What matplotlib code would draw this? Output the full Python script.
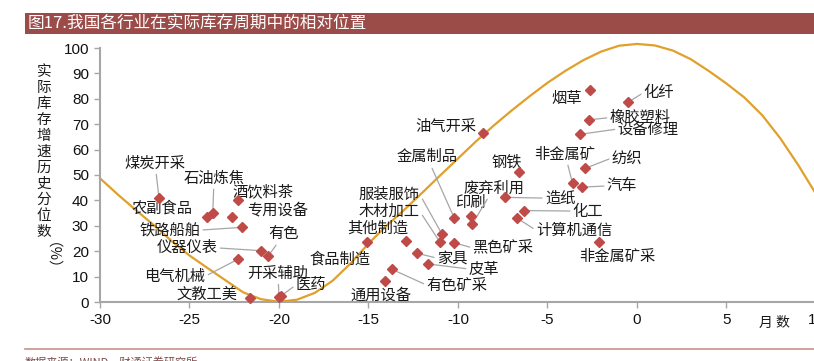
import matplotlib
matplotlib.use("Agg")
import matplotlib.pyplot as plt
from matplotlib.patches import Rectangle
from matplotlib.lines import Line2D

plt.rcParams["font.family"] = ["Noto Sans CJK SC", "DejaVu Sans"]
plt.rcParams["axes.unicode_minus"] = False

# ── data ─────────────────────────────────────────────────────────────────────
CURVE_X = list(range(-30, 11))
CURVE_Y = [48.7, 42.3, 36.2, 30.3, 24.0, 18.3, 13.4, 8.6, 3.8, 1.1, 0.1,
           0.9, 3.6, 8.4, 15.2, 23.0, 30.0, 36.3, 43.0, 49.8, 56.5,
           63.2, 69.5, 75.4, 81.0, 86.3, 91.0, 95.2, 98.6, 100.9, 101.6,
           101.0, 99.0, 95.6, 91.0, 86.0, 80.5, 73.5, 64.5, 54.0, 42.5]

INDUSTRIES = ["煤炭开采", "农副食品", "石油炼焦", "酒饮料茶", "专用设备", "铁路船舶",
              "仪器仪表", "有色", "电气机械", "文教工美", "开采辅助", "医药",
              "食品制造", "其他制造", "通用设备", "有色矿采", "服装服饰", "木材加工",
              "金属制品", "家具", "皮革", "黑色矿采", "印刷", "废弃利用",
              "油气开采", "钢铁", "造纸", "化工", "计算机通信", "非金属矿",
              "汽车", "纺织", "设备修理", "橡胶塑料", "烟草", "化纤", "非金属矿采"]
MONTHS = [-26.7, -24.0, -23.7, -22.3, -22.6, -22.05,
          -21.0, -20.6, -22.3, -21.6, -20.0, -19.9,
          -15.1, -12.9, -14.1, -13.7, -10.9, -11.0,
          -10.2, -12.3, -11.7, -10.2, -9.3, -9.2,
          -8.6, -6.6, -7.4, -6.3, -6.7, -3.6,
          -3.1, -2.9, -3.2, -2.7, -2.6, -0.5, -2.1]
PCTILE = [40.8, 33.5, 34.9, 40.2, 33.3, 29.4,
          20.2, 18.1, 16.8, 1.5, 2.0, 2.3,
          23.7, 24.1, 8.3, 12.9, 26.8, 23.5,
          32.9, 19.2, 15.0, 23.3, 34.0, 30.7,
          66.7, 51.3, 41.2, 36.0, 33.0, 46.7,
          45.2, 52.6, 66.0, 71.7, 83.5, 78.6, 23.7]

# ── label layout: (x, y) of text centre, leader relpos or None ──────────────
LABEL_POS = {
    "煤炭开采": ((-26.93, 54.7), (0.5, 0.5)),
    "农副食品": ((-26.54, 37.0), None),
    "石油炼焦": ((-23.63, 48.8), (0.5, 0.5)),
    "酒饮料茶": ((-20.87, 43.3), None),
    "专用设备": ((-20.06, 36.2), None),
    "铁路船舶": ((-26.1, 28.3), (1, 0.5)),
    "仪器仪表": ((-25.14, 21.3), (1, 0.5)),
    "有色": ((-19.72, 26.8), (0.5, 0.5)),
    "电气机械": ((-25.81, 10.2), (1, 0.5)),
    "文教工美": ((-24.02, 3.1), None),
    "开采辅助": ((-20.06, 11.4), (0.5, 0.5)),
    "医药": ((-18.21, 6.7), (0, 0.5)),
    "食品制造": ((-16.59, 16.9), None),
    "其他制造": ((-14.47, 29.1), None),
    "通用设备": ((-14.3, 2.8), None),
    "有色矿采": ((-10.06, 6.7), (0, 0.5)),
    "服装服饰": ((-13.85, 42.5), (1, 0.5)),
    "木材加工": ((-13.85, 35.8), (1, 0.5)),
    "金属制品": ((-11.73, 57.1), (0.5, 0.5)),
    "家具": ((-10.33, 17.3), (0, 0.5)),
    "皮革": ((-8.55, 13.0), (0, 0.5)),
    "黑色矿采": ((-7.49, 21.3), (0, 0.5)),
    "印刷": ((-9.33, 39.0), None),
    "废弃利用": ((-7.99, 44.9), (0.5, 0.5)),
    "油气开采": ((-10.67, 69.3), None),
    "钢铁": ((-7.26, 55.1), None),
    "造纸": ((-4.3, 40.9), (0, 0.5)),
    "化工": ((-2.74, 35.8), (0, 0.5)),
    "计算机通信": ((-3.52, 28.3), (0, 0.5)),
    "非金属矿": ((-4.02, 58.3), (0.5, 0.5)),
    "汽车": ((-0.84, 45.7), (0, 0.5)),
    "纺织": ((-0.56, 56.7), (0, 0.5)),
    "设备修理": ((0.61, 68.1), (0, 0.5)),
    "橡胶塑料": ((0.17, 72.6), (0, 0.5)),
    "化纤": ((1.23, 82.5), (0, 0.5)),
    "烟草": ((-3.91, 80.1), None),
    "非金属矿采": ((-1.12, 17.9), None),
}

W, H = 814, 361
CURVE_COLOR = "#E0A02A"
POINT_COLOR = "#BE4B48"
AXIS_COLOR = "#A6A6A6"
BAR_COLOR = "#9B4B48"

fig = plt.figure(figsize=(W / 100, H / 100), dpi=100)
ax = fig.add_axes([100 / W, 59 / H, 716 / W, 254 / H])

ax.plot(CURVE_X, CURVE_Y, color=CURVE_COLOR, lw=1.6, clip_on=False, zorder=2)
ax.plot(MONTHS, PCTILE, linestyle="none", marker="D", ms=5.2,
        color=POINT_COLOR, mec=POINT_COLOR, clip_on=False, zorder=4)

for name, mx, my in zip(INDUSTRIES, MONTHS, PCTILE):
    (lx, ly), rp = LABEL_POS[name]
    props = None
    if rp is not None:
        props = dict(arrowstyle="-", color=AXIS_COLOR, lw=0.9,
                     shrinkA=0, shrinkB=1, relpos=rp)
    ax.annotate(name, xy=(mx, my), xytext=(lx, ly), textcoords="data",
                ha="center", va="center", fontsize=11, color="#1a1a1a",
                arrowprops=props, zorder=3, annotation_clip=False)

ax.set_xlim(-30, 10)
ax.set_ylim(0, 100)
ax.set_xticks(range(-30, 11, 5))
ax.set_yticks(range(0, 101, 10))
for s in ["top", "right"]:
    ax.spines[s].set_visible(False)
for s in ["left", "bottom"]:
    ax.spines[s].set_color(AXIS_COLOR)
    ax.spines[s].set_linewidth(1.5)
ax.tick_params(direction="out", length=4, width=1, color=AXIS_COLOR,
               labelsize=11, pad=4)
for lab in ax.get_xticklabels() + ax.get_yticklabels():
    lab.set_fontfamily("Liberation Sans")
    lab.set_color("#111111")

# y label, stacked characters
ylab = "实际库存增速历史分位数"
for i, ch in enumerate(ylab):
    fig.text(44 / W, 1 - (72 + 16 * i) / H, ch, ha="center", va="center",
             fontsize=10.5, color="#1a1a1a")
fig.text(44 / W, 1 - 263 / H, "（%）", ha="center", va="center",
         rotation=-90, fontsize=10.5, color="#1a1a1a")

fig.text(774 / W, 1 - 323 / H, "月 数", ha="center", va="center",
         fontsize=10, color="#1a1a1a")

# title bar
fig.add_artist(Rectangle((25 / W, 1 - 34.3 / H), 1 - 25 / W, 21.6 / H,
                         transform=fig.transFigure, color=BAR_COLOR, lw=0))
fig.text(28 / W, 1 - 23.5 / H, "图17.我国各行业在实际库存周期中的相对位置",
         ha="left", va="center", fontsize=12, color="white")

# footer (cut off at the lower edge, as in the reference)
fig.add_artist(Line2D([25 / W, 1], [1 - 349 / H] * 2, transform=fig.transFigure,
                      color="#C9908E", lw=1.2))
fig.text(25 / W, 1 - 357 / H, "数据来源：WIND，财通证券研究所", ha="left", va="top",
         fontsize=8, color="#7F4A48")

fig.savefig("out.png", dpi=100)
